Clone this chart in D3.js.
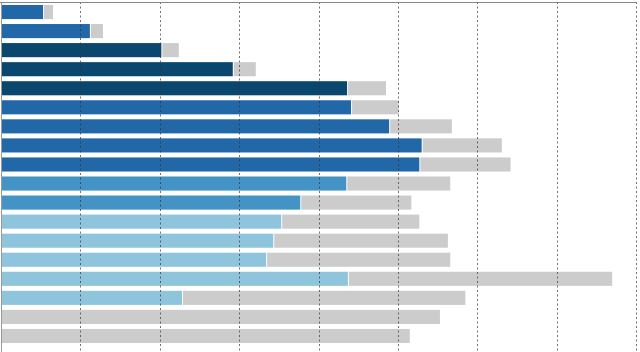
<!DOCTYPE html>
<html>
<head>
<meta charset="utf-8">
<script src="https://cdn.jsdelivr.net/npm/d3@7"></script>
<style>
  body { margin: 0; background: #fff; }
  svg { display: block; }
</style>
</head>
<body>
<svg id="chart"></svg>
<script>
// row ids, top to bottom
const rows = ["r1","r2","r3","r4","r5","r6","r7","r8","r9","r10","r11","r12","r13","r14","r15","r16","r17","r18"];
// coloured part of each bar
const filled = [5.3, 11.2, 20.2, 29.2, 43.6, 44.1, 48.9, 53.0, 52.7, 43.5, 37.7, 35.3, 34.3, 33.4, 43.7, 22.8, 0, 0];
// grey remainder after it
const remaining = [1.25, 1.65, 2.2, 2.9, 4.9, 6.0, 7.9, 10.1, 11.5, 13.1, 14.0, 17.4, 22.0, 23.2, 33.3, 35.7, 55.3, 51.5];
// colour group per row
const groups = ["b","b","d","d","d","b","b","b","b","s","s","l","l","l","l","l","l","l"];
const gridTicks = [10, 20, 30, 40, 50, 60, 70, 80];

const colors = {d: "#09476f", b: "#2268a8", s: "#4394c4", l: "#8fc4dd"};

const width = 640, height = 352;

const svg = d3.select('#chart')
    .attr('width', width)
    .attr('height', height);

const xScale = d3.scaleLinear().domain([0, 80]).range([1, 636]);
const yScale = d3.scaleBand()
    .domain(rows)
    .range([2.5, 345.5])
    .paddingInner(0.26)
    .paddingOuter(0.13);

const data = rows.map((r, i) => ({row: r, filled: filled[i], remaining: remaining[i], group: groups[i]}));

const stacked = d3.stack().keys(['filled', 'remaining'])(data);

svg.append('g')
  .selectAll('g')
  .data(stacked)
  .join('g')
  .selectAll('rect')
  .data(d => d.map(v => Object.assign(v, {key: d.key})))
  .join('rect')
    .attr('x', d => xScale(d[0]) + (d.key === 'remaining' && d[0] > 0 ? 1 : 0))
    .attr('y', d => yScale(d.data.row))
    .attr('width', d => Math.max(0, xScale(d[1]) - xScale(d[0]) - (d.key === 'remaining' && d[0] > 0 ? 1 : 0)))
    .attr('height', yScale.bandwidth())
    .attr('fill', d => d.key === 'filled' ? colors[d.data.group] : '#cccccc');

// dashed vertical gridlines
svg.append('g')
  .selectAll('line')
  .data(gridTicks)
  .join('line')
    .attr('x1', d => Math.round(xScale(d)) + 0.5)
    .attr('x2', d => Math.round(xScale(d)) + 0.5)
    .attr('y1', 2)
    .attr('y2', height)
    .attr('stroke', '#333')
    .attr('stroke-opacity', 0.7)
    .attr('stroke-dasharray', '2,2.5');

// top and left axis lines
svg.append('line')
    .attr('x1', 0).attr('x2', 637)
    .attr('y1', 2.5).attr('y2', 2.5)
    .attr('stroke', '#888');
svg.append('line')
    .attr('x1', 1.5).attr('x2', 1.5)
    .attr('y1', 2).attr('y2', height)
    .attr('stroke', '#999');
</script>
</body>
</html>
